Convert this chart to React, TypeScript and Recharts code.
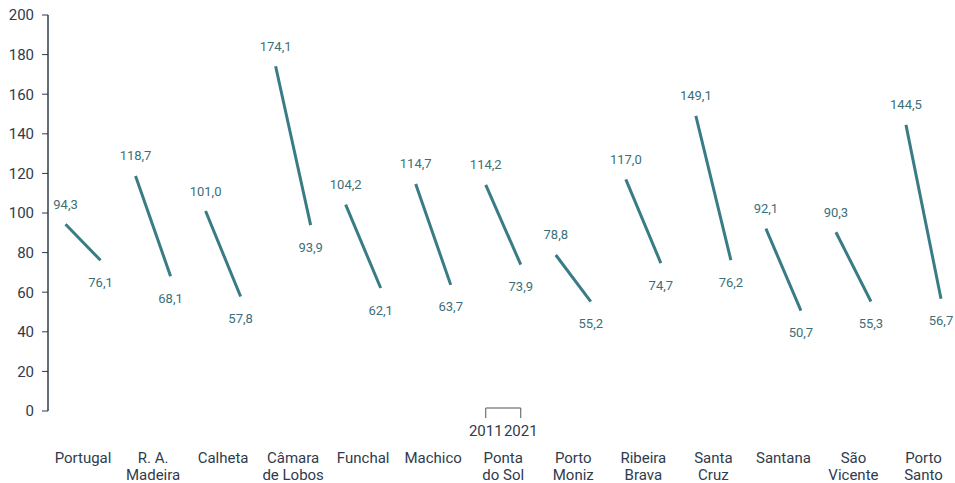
import { LineChart, Line, XAxis, YAxis, LabelList } from 'recharts';

const categories = [
  ['Portugal'],
  ['R. A.', 'Madeira'],
  ['Calheta'],
  ['Câmara', 'de Lobos'],
  ['Funchal'],
  ['Machico'],
  ['Ponta', 'do Sol'],
  ['Porto', 'Moniz'],
  ['Ribeira', 'Brava'],
  ['Santa', 'Cruz'],
  ['Santana'],
  ['São', 'Vicente'],
  ['Porto', 'Santo'],
];
const values2011 = [94.3, 118.7, 101.0, 174.1, 104.2, 114.7, 114.2, 78.8, 117.0, 149.1, 92.1, 90.3, 144.5];
const values2021 = [76.1, 68.1, 57.8, 93.9, 62.1, 63.7, 73.9, 55.2, 74.7, 76.2, 50.7, 55.3, 56.7];
const yTicks = [0, 20, 40, 60, 80, 100, 120, 140, 160, 180, 200];
const yearLabels = ['2011', '2021'];
const legendIndex = 6;

const LINE = '#3a7c85';
const LABEL = '#3b7078';
const AXIS = '#2f3b4d';
const FONT = 'Roboto, sans-serif';

// one segment per municipality: 2011 on the left, 2021 on the right, null to break
const data: { x: number; v: number | null; year: string }[] = [];
categories.forEach((_, i) => {
  data.push({ x: i - 0.25, v: values2011[i], year: '2011' });
  data.push({ x: i + 0.25, v: values2021[i], year: '2021' });
  if (i < categories.length - 1) data.push({ x: i + 0.5, v: null, year: '' });
});

const fmt = (v: number) => v.toFixed(1).replace('.', ',');

const renderLabel = (props: any) => {
  const { x, y, value, index } = props;
  if (value == null) return null;
  const top = data[index].year === '2011';
  return (
    <text
      x={x}
      y={top ? y - 20 : y + 22}
      textAnchor="middle"
      dominantBaseline="central"
      fill={LABEL}
      fontSize={13}
      fontFamily={FONT}
    >
      {fmt(value)}
    </text>
  );
};

const CategoryTick = (props: any) => {
  const { x, y, payload } = props;
  const lines = categories[payload.value] || [];
  const half = 17.5;
  return (
    <g>
      {payload.value === legendIndex && (
        <g>
          <path
            d={`M${x - half},${y - 1} V${y - 11} H${x + half} V${y - 1}`}
            fill="none"
            stroke="#555"
            strokeWidth={1}
          />
          <text x={x - half} y={y + 12} textAnchor="middle" dominantBaseline="central" fill={AXIS} fontSize={15} fontFamily={FONT}>
            {yearLabels[0]}
          </text>
          <text x={x + half} y={y + 12} textAnchor="middle" dominantBaseline="central" fill={AXIS} fontSize={15} fontFamily={FONT}>
            {yearLabels[1]}
          </text>
        </g>
      )}
      {lines.map((l, k) => (
        <text
          key={k}
          x={x}
          y={y + 39 + k * 17}
          textAnchor="middle"
          dominantBaseline="central"
          fill={AXIS}
          fontSize={15}
          fontFamily={FONT}
        >
          {l}
        </text>
      ))}
    </g>
  );
};

export default function App() {
  return (
    <div style={{ position: 'absolute', left: 0, top: 0 }}>
      <LineChart
        width={955}
        height={483}
        data={data}
        margin={{ top: 15, right: 0, left: 0, bottom: 0 }}
        style={{ fontFamily: FONT }}
      >
        <XAxis
          dataKey="x"
          type="number"
          domain={[-0.5, 12.45]}
          ticks={categories.map((_, i) => i)}
          axisLine={false}
          tickLine={false}
          height={72}
          interval={0}
          tick={<CategoryTick />}
        />
        <YAxis
          domain={[0, 200]}
          ticks={yTicks}
          width={48}
          axisLine={{ stroke: AXIS, strokeWidth: 1.5 }}
          tickLine={{ stroke: AXIS }}
          tickSize={6}
          tickMargin={8}
          tick={{ fill: AXIS, fontSize: 15, fontFamily: FONT }}
        />
        <Line
          dataKey="v"
          stroke={LINE}
          strokeWidth={3}
          dot={false}
          activeDot={false}
          connectNulls={false}
          isAnimationActive={false}
        >
          <LabelList dataKey="v" content={renderLabel} />
        </Line>
      </LineChart>
    </div>
  );
}
